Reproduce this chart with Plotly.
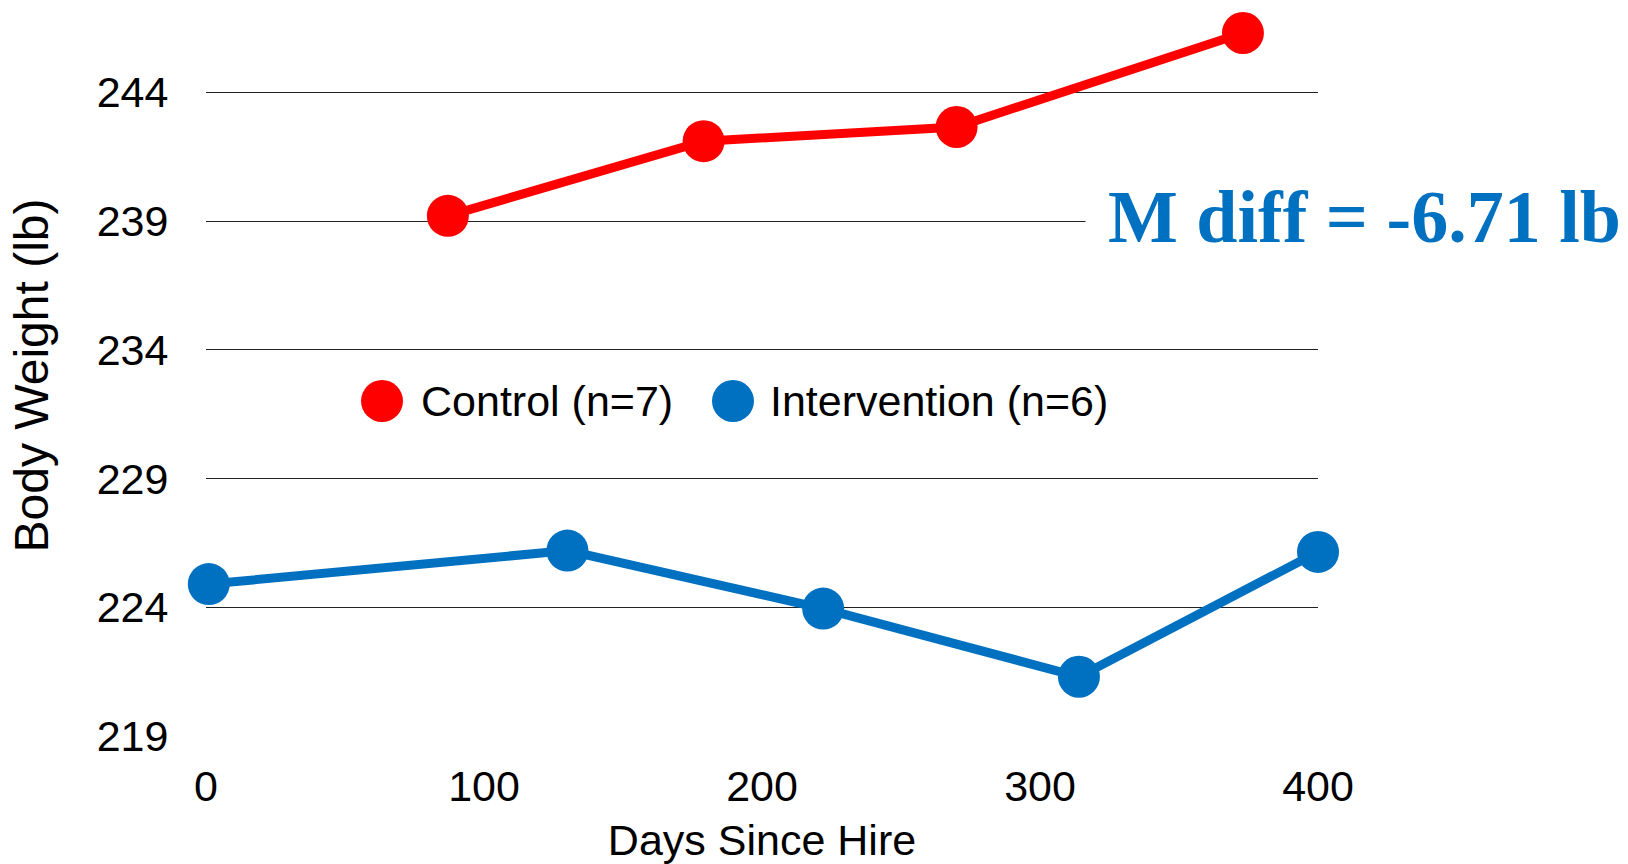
import plotly.graph_objects as go

# ---- data ----
control_days = [87, 179, 270, 373]
control_weight = [239.2, 242.1, 242.65, 246.3]
intervention_days = [1, 130, 222, 314, 400]
intervention_weight = [224.9, 226.2, 223.95, 221.3, 226.15]
y_ticks = [219, 224, 229, 234, 239, 244]
x_ticks = [0, 100, 200, 300, 400]
series_names = ["Control (n=7)", "Intervention (n=6)"]
annotation_text = "M diff = -6.71 lb"

RED = "#FF0000"
BLUE = "#0070C0"
FONT = "Liberation Sans, Arial, sans-serif"

fig = go.Figure()
fig.add_trace(go.Scatter(
    x=control_days, y=control_weight, mode="lines+markers", name=series_names[0],
    line=dict(color=RED, width=9), marker=dict(color=RED, size=42),
    cliponaxis=False, showlegend=False))
fig.add_trace(go.Scatter(
    x=intervention_days, y=intervention_weight, mode="lines+markers", name=series_names[1],
    line=dict(color=BLUE, width=9), marker=dict(color=BLUE, size=42),
    cliponaxis=False, showlegend=False))

L, R, T, B = 206, 310, 15, 128
W, H = 1628, 864
pw = W - L - R
ph = H - T - B

def px(xp):
    return (xp - L) / pw

def py(yp):
    return (H - B - yp) / ph

# custom legend (large markers)
shapes = []
annotations = []
legend_items = [(series_names[0], RED, 382, 419), (series_names[1], BLUE, 733, 768)]
for name, col, mx, tx in legend_items:
    shapes.append(dict(type="circle", xref="paper", yref="paper",
                       xsizemode="pixel", ysizemode="pixel",
                       xanchor=px(mx), yanchor=py(401),
                       x0=-21, x1=21, y0=-21, y1=21,
                       fillcolor=col, line=dict(width=0)))
    annotations.append(dict(text=name, xref="paper", yref="paper",
                            x=px(tx), y=py(401), xanchor="left", yanchor="middle",
                            showarrow=False, font=dict(family=FONT, size=43, color="black")))

annotations.append(dict(text="<b>" + annotation_text + "</b>", xref="paper", yref="paper",
                        x=px(1085), y=py(217), xanchor="left", yanchor="middle",
                        showarrow=False, bgcolor="white", borderpad=22,
                        font=dict(family="Liberation Serif, Times New Roman, serif", size=74, color=BLUE)))

fig.update_layout(
    width=W, height=H,
    margin=dict(l=L, r=R, t=T, b=B),
    paper_bgcolor="white", plot_bgcolor="white",
    shapes=shapes, annotations=annotations,
    showlegend=False,
    xaxis=dict(range=[0, 400], tickvals=x_ticks, showgrid=False, zeroline=False,
               showline=False, ticks="outside", ticklen=12, tickcolor="rgba(0,0,0,0)",
               automargin=False,
               tickfont=dict(family=FONT, size=43, color="black"),
               title=dict(text="Days Since Hire", font=dict(family=FONT, size=43, color="black"), standoff=18)),
    yaxis=dict(range=[219, 247], tickvals=y_ticks, showgrid=True, gridcolor="#222222", gridwidth=1.2,
               zeroline=False, showline=False, ticks="outside", ticklen=28,
               tickcolor="rgba(0,0,0,0)", automargin=False,
               tickfont=dict(family=FONT, size=43, color="black"),
               title=dict(text="Body Weight (lb)", font=dict(family=FONT, size=48, color="black"), standoff=32)),
)

fig.write_html("out.html", config={"displayModeBar": False},
               post_script="document.body.style.margin='0';document.body.style.padding='0';")
